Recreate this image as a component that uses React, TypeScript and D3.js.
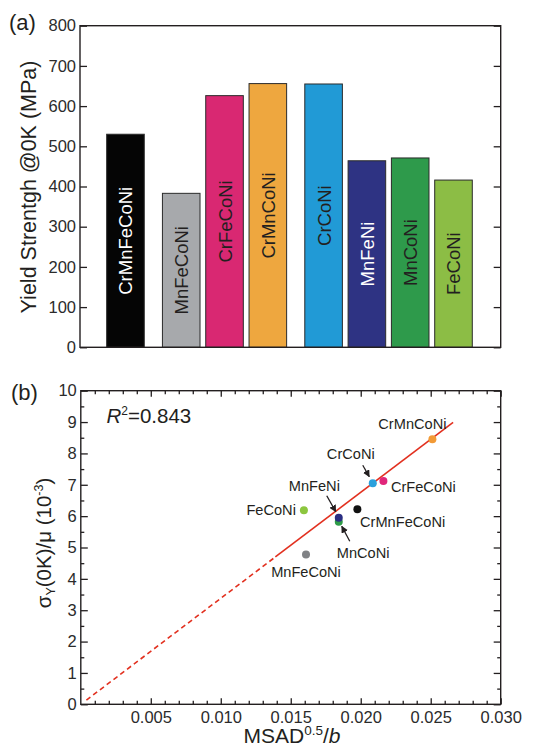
import React, { useEffect, useRef } from "react";
import * as d3 from "d3";

// panel (a): yield strength at 0 K
const alloys = [
  "CrMnFeCoNi",
  "MnFeCoNi",
  "CrFeCoNi",
  "CrMnCoNi",
  "CrCoNi",
  "MnFeNi",
  "MnCoNi",
  "FeCoNi",
];
const yieldStrength = [530, 383, 626, 656, 655, 464, 471, 416];
const elementCount = [5, 4, 4, 4, 3, 3, 3, 3];
const barColors = [
  "#050505",
  "#a7a9ac",
  "#d92872",
  "#eea73f",
  "#219ad6",
  "#2e3383",
  "#2e9a4b",
  "#8cbd45",
];
const barTextColors = [
  "#ffffff",
  "#231f20",
  "#231f20",
  "#231f20",
  "#231f20",
  "#ffffff",
  "#231f20",
  "#231f20",
];
const strengthTicks = [0, 100, 200, 300, 400, 500, 600, 700, 800];

// panel (b): normalised strength vs MSAD^0.5/b
const msad = [0.01976, 0.01609, 0.02162, 0.02512, 0.02086, 0.01843, 0.01843, 0.01594];
const normStrength = [6.22, 4.78, 7.12, 8.45, 7.05, 5.95, 5.82, 6.19];
const pointColors = [
  "#111111",
  "#808285",
  "#e0267a",
  "#f29a36",
  "#2aa0dc",
  "#2b2e83",
  "#2e9c48",
  "#8cc63f",
];
const msadTicks = [0.005, 0.01, 0.015, 0.02, 0.025, 0.03];
const normTicks = [0, 1, 2, 3, 4, 5, 6, 7, 8, 9, 10];
const fitSlope = 338;
const fitDashed = [0.0004, 0.0139];
const fitSolid = [0.0139, 0.0266];
const rSquared = "0.843";

// label placement relative to each point (px)
const labelLayout: Record<string, { dx: number; dy: number; anchor: string; arrow?: number[] }> = {
  CrMnCoNi: { dx: -20, dy: -10, anchor: "middle" },
  CrCoNi: { dx: -22, dy: -24, anchor: "middle", arrow: [-10, -18, -3.5, -6.5] },
  CrFeCoNi: { dx: 7.5, dy: 11, anchor: "start" },
  CrMnFeCoNi: { dx: 2.7, dy: 18, anchor: "start" },
  FeCoNi: { dx: -8, dy: 4.7, anchor: "end" },
  MnFeNi: { dx: -24.4, dy: -26.7, anchor: "middle", arrow: [-12, -22, -3, -6] },
  MnCoNi: { dx: -2, dy: 36.6, anchor: "start", arrow: [11, 19.5, 3, 4.5] },
  MnFeCoNi: { dx: 0, dy: 23, anchor: "middle" },
};

const FONT = "'Liberation Sans', Arial, Helvetica, sans-serif";
const INK = "#231f20";

const App = () => {
  const svgRef = useRef<SVGSVGElement>(null);

  useEffect(() => {
    const svg = d3.select(svgRef.current);
    svg.selectAll("*").remove();
    svg.style("font-family", FONT);

    const defs = svg.append("defs");
    defs
      .append("marker")
      .attr("id", "ah")
      .attr("viewBox", "0 0 10 10")
      .attr("refX", 9)
      .attr("refY", 5)
      .attr("markerWidth", 5.5)
      .attr("markerHeight", 5.5)
      .attr("orient", "auto")
      .append("path")
      .attr("d", "M0,0 L10,5 L0,10 z")
      .attr("fill", INK);

    //---------------- panel (a)
    const gapFrac = 0.2875;
    const slot = alloys.map((_, i) => i + (5 - elementCount[i]) * gapFrac);
    const xA = d3.scaleLinear().domain([-1.05, 8.665]).range([80, 500.7]);
    const yA = d3.scaleLinear().domain([0, 800]).range([347.3, 25.7]);
    const half = 0.434;

    const gA = svg.append("g");
    gA.selectAll("rect.bar")
      .data(alloys)
      .join("rect")
      .attr("class", "bar")
      .attr("x", (d, i) => xA(slot[i] - half))
      .attr("width", (d, i) => xA(slot[i] + half) - xA(slot[i] - half))
      .attr("y", (d, i) => yA(yieldStrength[i]))
      .attr("height", (d, i) => yA(0) - yA(yieldStrength[i]))
      .attr("fill", (d, i) => barColors[i])
      .attr("stroke", "#2b2b2b")
      .attr("stroke-width", 1);

    gA.selectAll("text.barlabel")
      .data(alloys)
      .join("text")
      .attr("class", "barlabel")
      .attr(
        "transform",
        (d, i) =>
          `translate(${xA(slot[i]) + 0.5},${(yA(yieldStrength[i]) + yA(0)) / 2}) rotate(-90)`
      )
      .attr("text-anchor", "middle")
      .attr("dominant-baseline", "central")
      .attr("font-size", 18.5)
      .attr("fill", (d, i) => barTextColors[i])
      .text((d) => d);

    const leftA = d3
      .axisLeft(yA)
      .tickValues(strengthTicks)
      .tickSizeInner(-7)
      .tickSizeOuter(0)
      .tickPadding(4)
      .tickFormat(d3.format("d"));
    gA.append("g").attr("transform", "translate(80,0)").call(leftA);
    const rightA = d3
      .axisRight(yA)
      .tickValues(strengthTicks)
      .tickSizeInner(-7)
      .tickSizeOuter(0)
      .tickFormat(() => "");
    gA.append("g").attr("transform", "translate(500.7,0)").call(rightA);

    gA.append("rect")
      .attr("x", 80)
      .attr("y", 25.7)
      .attr("width", 420.7)
      .attr("height", 321.6)
      .attr("fill", "none")
      .attr("stroke", INK)
      .attr("stroke-width", 1.4);

    gA.append("text")
      .attr("transform", "translate(36,187) rotate(-90)")
      .attr("text-anchor", "middle")
      .attr("font-size", 21.5)
      .attr("fill", INK)
      .text("Yield Strentgh @0K (MPa)");

    gA.append("text")
      .attr("x", 9)
      .attr("y", 30)
      .attr("font-size", 22)
      .attr("fill", INK)
      .text("(a)");

    //---------------- panel (b)
    const xB = d3.scaleLinear().domain([0, 0.03]).range([80.8, 500.7]);
    const yB = d3.scaleLinear().domain([0, 10]).range([704.3, 390.7]);
    const gB = svg.append("g");

    const minorX = d3.range(1, 30).map((k) => k / 1000).filter((v) => Math.round(v * 1000) % 5 !== 0);
    const minorY = d3.range(0.5, 10, 1);

    const bottom = d3
      .axisBottom(xB)
      .tickValues(msadTicks)
      .tickSizeInner(-6)
      .tickSizeOuter(0)
      .tickPadding(7)
      .tickFormat(d3.format(".3f"));
    gB.append("g").attr("transform", "translate(0,704.3)").call(bottom);
    gB.append("g")
      .attr("transform", "translate(0,704.3)")
      .call(d3.axisBottom(xB).tickValues(minorX).tickSizeInner(-3.5).tickSizeOuter(0).tickFormat(() => ""));
    gB.append("g")
      .attr("transform", "translate(0,390.7)")
      .call(d3.axisTop(xB).tickValues(msadTicks).tickSizeInner(-6).tickSizeOuter(0).tickFormat(() => ""));
    gB.append("g")
      .attr("transform", "translate(0,390.7)")
      .call(d3.axisTop(xB).tickValues(minorX).tickSizeInner(-3.5).tickSizeOuter(0).tickFormat(() => ""));

    gB.append("g")
      .attr("transform", "translate(80.8,0)")
      .call(d3.axisLeft(yB).tickValues(normTicks).tickSizeInner(-7).tickSizeOuter(0).tickPadding(4).tickFormat(d3.format("d")));
    gB.append("g")
      .attr("transform", "translate(80.8,0)")
      .call(d3.axisLeft(yB).tickValues(minorY).tickSizeInner(-3.5).tickSizeOuter(0).tickFormat(() => ""));
    gB.append("g")
      .attr("transform", "translate(500.7,0)")
      .call(d3.axisRight(yB).tickValues(normTicks).tickSizeInner(-7).tickSizeOuter(0).tickFormat(() => ""));
    gB.append("g")
      .attr("transform", "translate(500.7,0)")
      .call(d3.axisRight(yB).tickValues(minorY).tickSizeInner(-3.5).tickSizeOuter(0).tickFormat(() => ""));

    gB.append("rect")
      .attr("x", 80.8)
      .attr("y", 390.7)
      .attr("width", 500.7 - 80.8)
      .attr("height", 704.3 - 390.7)
      .attr("fill", "none")
      .attr("stroke", INK)
      .attr("stroke-width", 1.4);

    // fit line
    const fit = d3
      .line<number>()
      .x((v) => xB(v))
      .y((v) => yB(fitSlope * v));
    gB.append("path")
      .attr("d", fit(fitDashed))
      .attr("fill", "none")
      .attr("stroke", "#e2301f")
      .attr("stroke-width", 1.6)
      .attr("stroke-dasharray", "5,3.5");
    gB.append("path")
      .attr("d", fit(fitSolid))
      .attr("fill", "none")
      .attr("stroke", "#e2301f")
      .attr("stroke-width", 1.6);

    // points (reverse order so MnFeNi sits over MnCoNi)
    const order = d3.range(alloys.length).reverse();
    gB.selectAll("circle.pt")
      .data(order)
      .join("circle")
      .attr("class", "pt")
      .attr("cx", (i) => xB(msad[i]))
      .attr("cy", (i) => yB(normStrength[i]))
      .attr("r", 4)
      .attr("fill", (i) => pointColors[i]);

    // labels and arrows
    alloys.forEach((name, i) => {
      const lay = labelLayout[name];
      const px = xB(msad[i]);
      const py = yB(normStrength[i]);
      gB.append("text")
        .attr("x", px + lay.dx)
        .attr("y", py + lay.dy)
        .attr("text-anchor", lay.anchor)
        .attr("font-size", 14.6)
        .attr("fill", INK)
        .text(name);
      if (lay.arrow) {
        gB.append("line")
          .attr("x1", px + lay.arrow[0])
          .attr("y1", py + lay.arrow[1])
          .attr("x2", px + lay.arrow[2])
          .attr("y2", py + lay.arrow[3])
          .attr("stroke", INK)
          .attr("stroke-width", 1.3)
          .attr("marker-end", "url(#ah)");
      }
    });

    const r2 = gB.append("text").attr("x", 106.5).attr("y", 423.3).attr("font-size", 20.5).attr("fill", INK);
    r2.append("tspan").attr("font-style", "italic").text("R");
    r2.append("tspan").attr("font-size", 12).attr("dy", -8).text("2");
    r2.append("tspan").attr("dy", 8).text("=" + rSquared);

    const xt = gB.append("text").attr("x", 292).attr("y", 743).attr("text-anchor", "middle").attr("font-size", 21).attr("fill", INK);
    xt.append("tspan").text("MSAD");
    xt.append("tspan").attr("font-size", 13.5).attr("dy", -8.5).text("0.5");
    xt.append("tspan").attr("dy", 8.5).text("/");
    xt.append("tspan").attr("font-style", "italic").text("b");

    const yt = gB
      .append("text")
      .attr("transform", "translate(51,543) rotate(-90)")
      .attr("text-anchor", "middle")
      .attr("font-size", 20.5)
      .attr("fill", INK);
    yt.append("tspan").text("σ");
    yt.append("tspan").attr("font-size", 12.5).attr("dy", 4).text("Y");
    yt.append("tspan").attr("dy", -4).text("(0K)/μ (10");
    yt.append("tspan").attr("font-size", 12.5).attr("dy", -8).text("-3");
    yt.append("tspan").attr("dy", 8).text(")");

    gB.append("text")
      .attr("x", 11)
      .attr("y", 400)
      .attr("font-size", 22)
      .attr("fill", INK)
      .text("(b)");

    // axis styling
    svg.selectAll(".domain").remove();
    svg.selectAll(".tick line").attr("stroke", INK).attr("stroke-width", 1.3);
    svg.selectAll(".tick text").attr("font-size", 16.5).attr("font-family", FONT).attr("fill", "#2b2b2b");
  }, []);

  return (
    <svg
      ref={svgRef}
      width={544}
      height={749}
      style={{ position: "absolute", left: 0, top: 0, background: "#fff" }}
    />
  );
};

export default App;
